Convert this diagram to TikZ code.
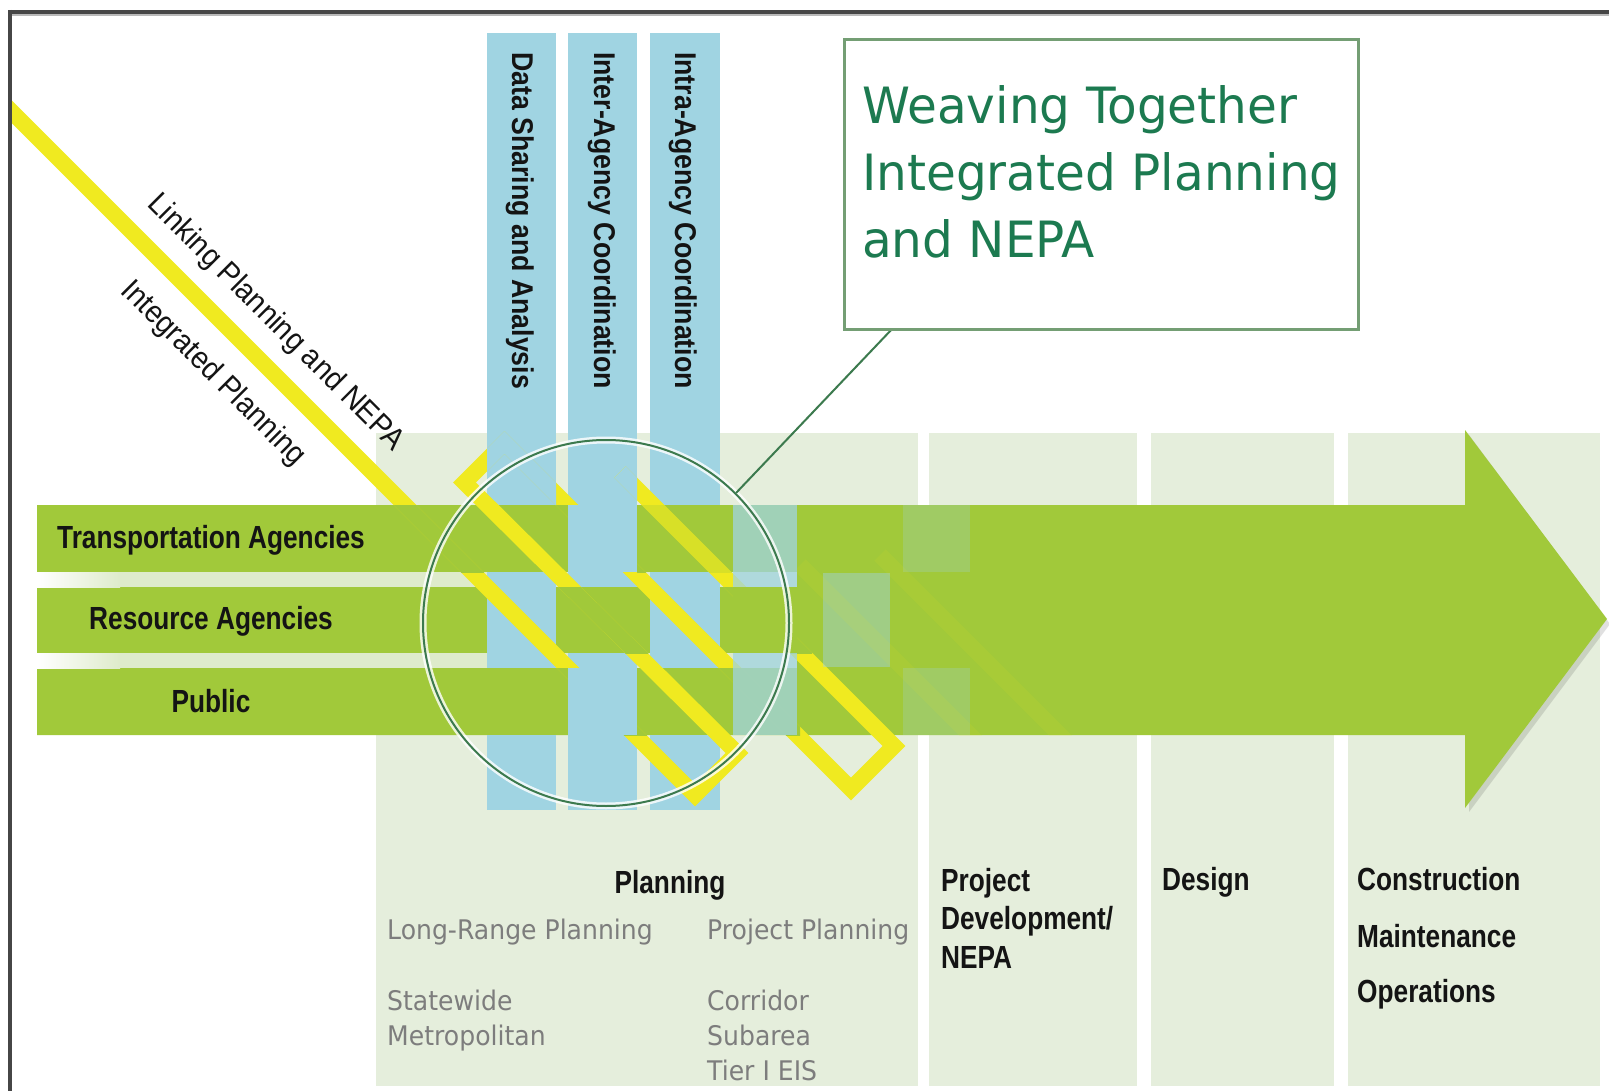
\documentclass[tikz,border=0pt]{standalone}
\usepackage{fontspec}
\setmainfont{Liberation Sans}
\newfontfamily\labf[FakeStretch=0.82]{Liberation Sans Bold}
\newfontfamily\barf[FakeStretch=0.89]{Liberation Sans Bold}
\newfontfamily\diagf[FakeStretch=0.92]{Liberation Sans}
\newfontfamily\grayf[FakeStretch=0.93]{DejaVu Sans}
\newfontfamily\titf[FakeStretch=0.97]{DejaVu Sans}
\definecolor{grn}{RGB}{161,201,58}
\definecolor{blu}{RGB}{160,212,226}
\definecolor{pan}{RGB}{229,238,220}
\definecolor{yel}{RGB}{240,234,32}
\definecolor{gapc}{RGB}{222,235,203}
\definecolor{circc}{RGB}{60,122,78}
\definecolor{boxc}{RGB}{116,158,116}
\definecolor{titc}{RGB}{28,122,80}
\definecolor{grayt}{RGB}{125,125,125}
\definecolor{bordc}{RGB}{70,70,70}
\definecolor{labc}{RGB}{20,20,20}
\def\segA{(5,105) -- (695,795)}
\def\segC{(737,753) -- (464.5,482.5)}
\def\segDE{(464.5,482.5) -- (504.5,442.5) -- (851,789)}
\def\segE{(504.5,442.5) -- (851,789)}
\def\segG{(894,746) -- (620,472)}
\newcommand\ribcover[3]{\begin{scope}\clip #2;\draw[rib,draw=#1] #3;\end{scope}}
\tikzset{
 rib/.style={draw=yel,line width=16,line cap=butt,line join=miter},
 lab/.style={font=\labf\fontsize{32}{38}\selectfont,text=labc,inner sep=0,anchor=base},
 labw/.style={lab,anchor=base west},
 barlab/.style={font=\barf\fontsize{30}{36}\selectfont,text=labc,inner sep=0,rotate=-90,anchor=base west},
 diag/.style={font=\diagf\fontsize{31}{36}\selectfont,text=labc,inner sep=0,rotate=-45,anchor=base},
 gr/.style={font=\grayf\fontsize{27}{32}\selectfont,text=grayt,inner sep=0,anchor=base west},
 tit/.style={font=\titf\fontsize{50}{60}\selectfont,text=titc,inner sep=0,anchor=base west},
}
\begin{document}
\begin{tikzpicture}[x=1pt,y=-1pt]
\useasboundingbox (0,0) rectangle (1609,1091);
\fill[white] (0,0) rectangle (1609,1091);
% stage panels
\fill[pan] (376,433) rectangle (918,1086);
\fill[pan] (929,433) rectangle (1137,1086);
\fill[pan] (1151,433) rectangle (1334,1086);
\fill[pan] (1348,433) rectangle (1600,1086);
% big arrow
\fill[black,opacity=0.12] (1469,435) -- (1610,624) -- (1469,812) -- cycle;
\fill[grn] (37,505) -- (1465,505) -- (1465,430) -- (1607,619) -- (1465,808) -- (1465,735) -- (37,735) -- cycle;
% gaps between bands
\shade[left color=white,right color=gapc] (37,572) rectangle (120,587);
\fill[gapc] (120,572) rectangle (797,587);
\shade[left color=white,right color=gapc] (37,653) rectangle (120,668);
\fill[gapc] (120,653) rectangle (797,668);
% blue bars
\fill[blu] (487,33) rectangle (556,810);
\fill[blu] (568,33) rectangle (637,810);
\fill[blu] (650,33) rectangle (720,810);
% band cells over bars
\fill[grn] (487,505) rectangle (556,572);
\fill[grn] (650,505) rectangle (720,572);
\fill[grn] (568,587) rectangle (637,653);
\fill[grn] (487,668) rectangle (556,735);
\fill[grn] (650,668) rectangle (720,735);
% yellow ribbon
\begin{scope}
\clip (12,14) rectangle (1609,1091);
\draw[rib] (5,105) -- (695,795) -- (737,753) -- (464.5,482.5) -- (504.5,442.5) -- (851,789) -- (894,746) -- (620,472);
\end{scope}
\ribcover{grn}{(370,505) rectangle (487,572)}{\segA}
\ribcover{grn}{(540,668) rectangle (650,735)}{\segA}
\fill[blu] (568,668) rectangle (637,735);
\ribcover{grn}{(550,587) rectangle (650,653)}{\segC}
\ribcover{blu}{(487,400) rectangle (556,505)}{\segDE}
\ribcover{grn}{(540,505) rectangle (568,572)}{\segE}
\ribcover{grn}{(637,505) rectangle (650,572)}{\segE}
\fill[blu] (568,505) rectangle (637,572);
\ribcover{grn}{(705,668) rectangle (800,735)}{\segE}
\ribcover{grn}{(720,587) rectangle (812,653)}{\segG}
\ribcover{blu}{(568,400) rectangle (637,505)}{\segG}
\begin{scope}
\clip (640,505) rectangle (733,572);
\draw[rib,draw=grn,opacity=0.3] \segG;
\end{scope}
% fading weave
\fill[blu,opacity=0.75] (733,505) rectangle (797,735);
\fill[grn] (733,587) rectangle (797,653);
\fill[blu,opacity=0.45] (823,573) rectangle (890,667);
\fill[blu,opacity=0.25] (903,505) rectangle (970,572);
\fill[blu,opacity=0.25] (903,668) rectangle (970,735);
\begin{scope}
\clip (797,505) rectangle (1100,735);
\draw[rib,opacity=0.09] (800,565) -- (990,755);
\draw[rib,opacity=0.09] (880,555) -- (1080,755);
\end{scope}
% circle and callout
\node (halo) [circle,minimum size=366,inner sep=0,draw=white,line width=7,opacity=0.8] at (606,623) {};
\node (circ) [circle,minimum size=366,inner sep=0,draw=circc,line width=2] at (606,623) {};
\coordinate (callend) at (893,328);
\draw[circc,line width=2] (circ.45) -- (callend);
\node (title) [draw=boxc,line width=3,fill=white,minimum width=514,minimum height=290,anchor=north west,inner sep=0] at (843,38) {};
\node (w1) [tit] at (862,124) {Weaving Together};
\node (w2) [tit] at (862,191) {Integrated Planning};
\node (w3) [tit] at (862,258) {and NEPA};
% bar labels
\node (b1t) [barlab] at (512,52) {Data Sharing and Analysis};
\node (b2t) [barlab] at (594,52) {Inter-Agency Coordination};
\node (b3t) [barlab] at (675,52) {Intra-Agency Coordination};
% diagonal labels
\node (lk) [diag] at (269.5,328.5) {Linking Planning and NEPA};
\node (ip) [diag] at (207.4,379.6) {Integrated Planning};
% band labels
\node (tA) [lab] at (211,548) {Transportation Agencies};
\node (rA) [lab] at (211,629) {Resource Agencies};
\node (pu) [lab] at (211,712) {Public};
% stage labels
\node (pl) [lab] at (670,893) {Planning};
\node (lr) [gr] at (387,939) {Long-Range Planning};
\node (pp) [gr] at (707,939) {Project Planning};
\node (sw) [gr] at (387,1010) {Statewide};
\node (me) [gr] at (387,1045) {Metropolitan};
\node (cr) [gr] at (707,1010) {Corridor};
\node (sa) [gr] at (707,1045) {Subarea};
\node (ti) [gr] at (707,1080) {Tier I EIS};
\node (pd1) [labw] at (941,891) {Project};
\node (pd2) [labw] at (941,929) {Development/};
\node (pd3) [labw] at (941,968) {NEPA};
\node (de) [labw] at (1162,890) {Design};
\node (co1) [labw] at (1357,890) {Construction};
\node (co2) [labw] at (1357,947) {Maintenance};
\node (co3) [labw] at (1357,1002) {Operations};
% frame
\draw[gray!55,line width=2] (12,15.5) -- (1609,15.5);
\draw[bordc,line width=4] (8,12) -- (1609,12);
\draw[bordc,line width=4] (10,10) -- (10,1091);
\end{tikzpicture}
\end{document}
